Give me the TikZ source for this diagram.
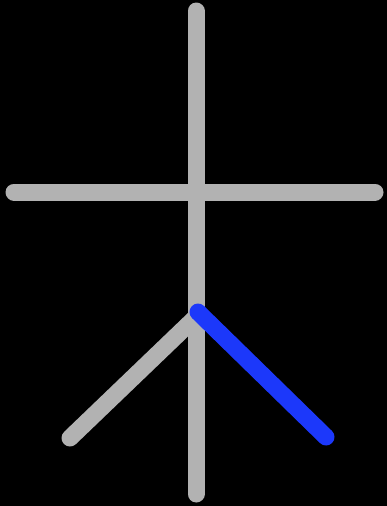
\documentclass[tikz,border=0pt]{standalone}
\definecolor{strokegray}{RGB}{178,178,178}
\definecolor{strokeblue}{RGB}{28,56,250}
\tikzset{
  stroke/.style={line width=17pt, line cap=round, draw=strokegray},
  active/.style={stroke, draw=strokeblue}
}
\begin{document}
\begin{tikzpicture}[x=1pt,y=-1pt]
\fill[black] (0,0) rectangle (387,506);
\useasboundingbox (0,0) rectangle (387,506);
\coordinate (vtop) at (196,11);
\coordinate (vbot) at (196,494);
\coordinate (hl) at (14,192);
\coordinate (hr) at (375,192);
\coordinate (pieS) at (195,318);
\coordinate (pieE) at (70,438);
\coordinate (naS) at (198,312);
\coordinate (naE) at (326,437);
\draw[stroke] (hl) -- (hr);
\draw[stroke] (vtop) -- (vbot);
\draw[stroke] (pieS) -- (pieE);
\draw[active] (naS) -- (naE);
\end{tikzpicture}
\end{document}
